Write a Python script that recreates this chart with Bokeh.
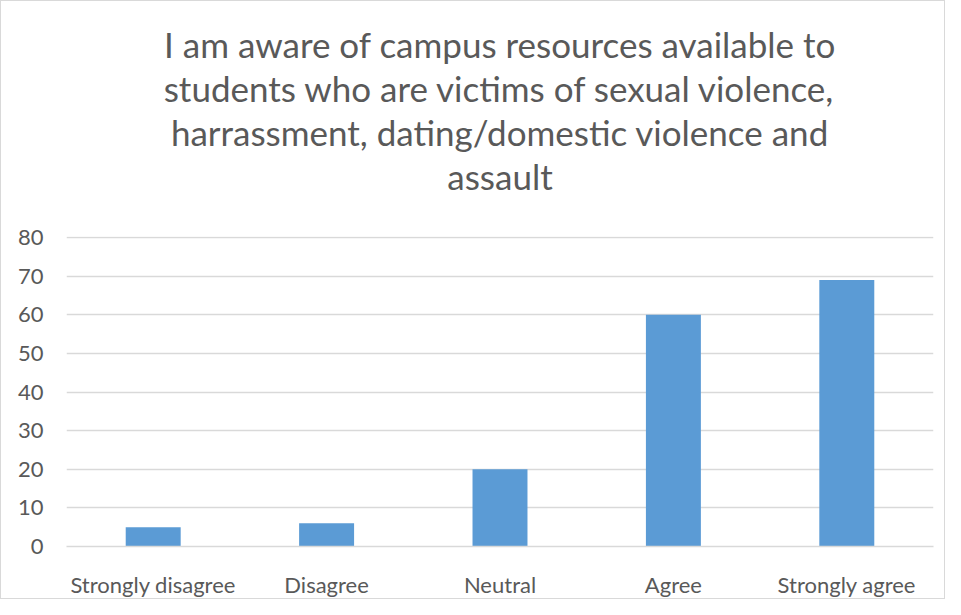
from bokeh.plotting import figure
from bokeh.models import Title
from bokeh.embed import file_html
from bokeh.resources import INLINE

categories = ["Strongly disagree", "Disagree", "Neutral", "Agree", "Strongly agree"]
counts = [5, 6, 20, 60, 69]
y_ticks = [0, 10, 20, 30, 40, 50, 60, 70, 80]
title_lines = [
    "I am aware of campus resources available to",
    "students who are victims of sexual violence,",
    "harrassment, dating/domestic violence and",
    "assault",
]

FONT = "Lato"
TXT = "#595959"
GRID = "#d9d9d9"

p = figure(
    x_range=categories, y_range=(0, 80.3),
    width=945, height=599,
    output_backend="svg", toolbar_location=None,
    min_border_left=65, min_border_right=13, min_border_top=235, min_border_bottom=45,
)
p.title = None
# spacer between title block and plot area
p.add_layout(Title(text=" ", text_font=FONT, text_font_size="31px", standoff=0), "above")
for line in reversed(title_lines):
    p.add_layout(Title(text=line, align="center", text_font=FONT, text_font_size="35px",
                       text_color=TXT, text_font_style="normal", standoff=0), "above")

p.vbar(x=categories, top=counts, width=0.317, fill_color="#5b9bd5", line_color=None)

p.outline_line_color = None
p.xgrid.grid_line_color = None
p.ygrid.grid_line_color = GRID
p.ygrid.grid_line_width = 1.3

p.yaxis.ticker = y_ticks
p.yaxis.axis_line_color = None
p.yaxis.major_tick_line_color = None
p.yaxis.minor_tick_line_color = None
p.yaxis.major_label_text_font = FONT
p.yaxis.major_label_text_font_size = "22px"
p.yaxis.major_label_text_color = TXT
p.yaxis.major_label_standoff = 17

p.xaxis.axis_line_color = GRID
p.xaxis.axis_line_width = 1.3
p.xaxis.major_tick_line_color = None
p.xaxis.minor_tick_line_color = None
p.xaxis.major_label_text_font = FONT
p.xaxis.major_label_text_font_size = "22px"
p.xaxis.major_label_text_color = TXT
p.xaxis.major_label_standoff = 18

p.styles = {"border": "1px solid #d9d9d9"}

open("out.html", "w").write(file_html(p, INLINE))
